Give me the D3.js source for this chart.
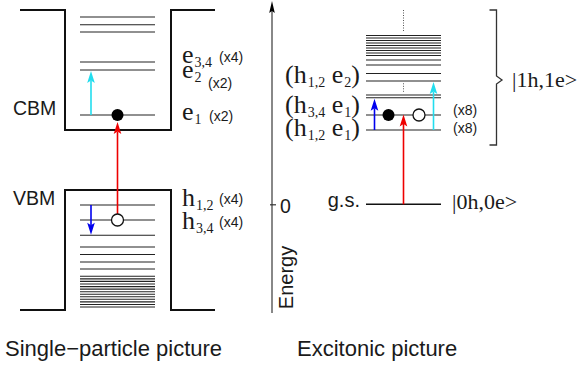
<!DOCTYPE html>
<html>
<head>
<meta charset="utf-8">
<script src="https://cdn.jsdelivr.net/npm/d3@7"></script>
<style>
  html, body { margin: 0; padding: 0; background: #fff; }
  svg { display: block; }
</style>
</head>
<body>
<svg id="chart" width="580" height="368"></svg>
<script>
// ---------- DATA (energies in arbitrary units, g.s. = 0) ----------
const panels = ["single", "excitonic"];
const panelTitles = ["Single\u2212particle picture", "Excitonic picture"];

// single-particle confinement potential
const cbBarrier = 194.3, cbBottom = 74.3;
const vbTop = 14.3, vbBarrier = -105.7;

// conduction-band (electron) levels
const cbLevels = [89.3, 134.3, 142.3, 172.3, 179.6, 187.3];
// valence-band (hole) levels
const vbLevels = [-0.7, -15.7, -31.0, -42.7, -50.2, -57.7, -64.7, -72.0, -74.6, -77.1,
                  -79.7, -82.3, -84.8, -87.4, -89.9, -92.5, -95.0, -97.6, -100.2, -102.7];
// excitonic levels |1h,1e>
const excLevels = [74.3, 89.3, 106.6, 109.3, 123.3, 130.8, 139.3, 144.3, 148.8, 151.3,
                   153.8, 156.3, 158.8, 161.3, 163.8, 166.3, 168.8];
const groundState = 0;

// level labels
const eLabels = [
  { main: "e", sub: "3,4", mult: "(x4)", E: 142.3 },
  { main: "e", sub: "2",   mult: "(x2)", E: 134.3 },
  { main: "e", sub: "1",   mult: "(x2)", E: 89.3 }
];
const hLabels = [
  { main: "h", sub: "1,2", mult: "(x4)", E: -0.7 },
  { main: "h", sub: "3,4", mult: "(x4)", E: -15.7 }
];
const excLabels = [
  { h: "1,2", e: "2", E: 123.3 },
  { h: "3,4", e: "1", E: 89.3 },
  { h: "1,2", e: "1", E: 74.3 }
];
const excMult = ["(x8)", "(x8)"];
const excMultE = [89.3, 74.3];
const axisTicks = [0];

// ---------- SCALES ----------
const svg = d3.select("#chart");
const y = d3.scaleLinear().domain([-110, 200]).range([314.3, 4.3]);
const xc = d3.scalePoint().domain(panels).range([117.5, 403.5]);
const halfLevel = 37.5;

const serif = "'Liberation Serif', 'Times New Roman', serif";
const sans = "'Liberation Sans', Arial, Helvetica, sans-serif";
const textCol = "#1a1a1a";
const levelCol = "#222";
const levelW = 1.1;

function arrow(g, x, y0, y1, color) {
  const dir = y1 < y0 ? 1 : -1; // 1 => pointing up
  const L = 12, w = 3.8, notch = 2.5;
  g.append("line").attr("x1", x).attr("x2", x).attr("y1", y0).attr("y2", y1 + dir * (L - notch))
    .attr("stroke", color).attr("stroke-width", 1.6);
  g.append("path")
    .attr("d", `M${x},${y1} L${x - w},${y1 + dir * L} L${x},${y1 + dir * (L - notch)} L${x + w},${y1 + dir * L} Z`)
    .attr("fill", color);
}

// ---------- SINGLE PARTICLE ----------
const sp = svg.append("g");
const cx = xc("single");
const wl = cx - 52.5, wr = cx + 53.5, bl = cx - 97.5, br = cx + 97.5;

sp.append("path")
  .attr("d", `M${bl},${y(cbBarrier)} H${wl} V${y(cbBottom)} H${wr} V${y(cbBarrier)} H${br}`)
  .attr("fill", "none").attr("stroke", "#111").attr("stroke-width", 2);
sp.append("path")
  .attr("d", `M${bl},${y(vbBarrier)} H${wl} V${y(vbTop)} H${wr} V${y(vbBarrier)} H${br}`)
  .attr("fill", "none").attr("stroke", "#111").attr("stroke-width", 2);

sp.selectAll("line.cb").data(cbLevels).join("line")
  .attr("x1", cx - halfLevel).attr("x2", cx + halfLevel)
  .attr("y1", d => y(d)).attr("y2", d => y(d))
  .attr("stroke", levelCol).attr("stroke-width", levelW);
sp.selectAll("line.vb").data(vbLevels).join("line")
  .attr("x1", cx - halfLevel).attr("x2", cx + halfLevel)
  .attr("y1", d => y(d)).attr("y2", d => y(d))
  .attr("stroke", levelCol).attr("stroke-width", levelW);

sp.append("text").attr("x", 13).attr("y", y(cbLevels[0]))
  .attr("font-family", sans).attr("font-size", 19.5).attr("fill", textCol).text("CBM");
sp.append("text").attr("x", 13).attr("y", y(vbTop) + 15)
  .attr("font-family", sans).attr("font-size", 19.5).attr("fill", textCol).text("VBM");

// labels
const eOff = [1, 8, 5];
const eMultX = [219, 208, 209];
const eMultOff = [0, 11, 2];
eLabels.forEach((d, i) => {
  const t = sp.append("text").attr("x", 182).attr("y", y(d.E) + eOff[i])
    .attr("font-family", serif).attr("fill", textCol);
  t.append("tspan").attr("font-size", 26).text(d.main);
  t.append("tspan").attr("font-size", 14).attr("dy", 4).attr("dx", 1).text(d.sub);
  sp.append("text").attr("x", eMultX[i]).attr("y", y(d.E) + eOff[i] + eMultOff[i] - 1)
    .attr("font-family", sans).attr("font-size", 14).attr("fill", textCol).text(d.mult);
});
const hOff = [1, 9];
hLabels.forEach((d, i) => {
  const t = sp.append("text").attr("x", 182).attr("y", y(d.E) + hOff[i])
    .attr("font-family", serif).attr("fill", textCol);
  t.append("tspan").attr("font-size", 26).text(d.main);
  t.append("tspan").attr("font-size", 14).attr("dy", 4).attr("dx", 1).text(d.sub);
  sp.append("text").attr("x", 219).attr("y", y(d.E) + hOff[i] - 2)
    .attr("font-family", sans).attr("font-size", 14).attr("fill", textCol).text(d.mult);
});

// transitions
arrow(sp, cx, y(vbLevels[1]) - 6, y(cbLevels[0]) + 7, "#ee0000");
arrow(sp, cx - 26.5, y(cbLevels[0]), y(cbLevels[1]) + 1, "#22ddee");
arrow(sp, cx - 26.5, y(vbLevels[0]), y(vbLevels[2]) - 0.5, "#0000ee");
sp.append("circle").attr("cx", cx).attr("cy", y(cbLevels[0])).attr("r", 6).attr("fill", "#000");
sp.append("circle").attr("cx", cx).attr("cy", y(vbLevels[1])).attr("r", 6)
  .attr("fill", "#fff").attr("stroke", "#111").attr("stroke-width", 1.3);

// ---------- ENERGY AXIS ----------
const ax = svg.append("g").attr("transform", "translate(272,0)");
ax.append("line").attr("x1", 0).attr("x2", 0).attr("y1", 313).attr("y2", 10)
  .attr("stroke", "#888").attr("stroke-width", 2);
ax.append("path").attr("d", "M0,1 L-2.8,13 L0,11 L2.8,13 Z").attr("fill", "#000");
const axis = d3.axisRight(y).tickValues(axisTicks).tickSize(4).tickPadding(4).tickFormat(d3.format("d"));
const axG = ax.append("g").call(axis);
axG.select(".domain").remove();
axG.selectAll(".tick line").attr("x1", -2).attr("stroke", "#333").attr("stroke-width", 1.2);
axG.selectAll(".tick text").attr("font-family", sans).attr("font-size", 19.5).attr("fill", textCol)
  .attr("dy", "0.4em");
ax.append("text").attr("transform", `translate(21,${277.5}) rotate(-90)`)
  .attr("text-anchor", "middle").attr("font-family", sans).attr("font-size", 20)
  .attr("fill", textCol).text("Energy");

// ---------- EXCITONIC ----------
const ex = svg.append("g");
const ec = xc("excitonic");
ex.selectAll("line.exc").data(excLevels).join("line")
  .attr("x1", ec - halfLevel).attr("x2", ec + halfLevel)
  .attr("y1", d => y(d)).attr("y2", d => y(d))
  .attr("stroke", levelCol).attr("stroke-width", levelW);
ex.append("line").attr("x1", ec - halfLevel).attr("x2", ec + halfLevel)
  .attr("y1", y(groundState)).attr("y2", y(groundState))
  .attr("stroke", "#111").attr("stroke-width", 1.4);

// dotted continuation marks
ex.append("line").attr("x1", ec).attr("x2", ec).attr("y1", y(194.3)).attr("y2", y(172.3))
  .attr("stroke", "#555").attr("stroke-width", 1).attr("stroke-dasharray", "1,1.5");
ex.append("line").attr("x1", ec).attr("x2", ec).attr("y1", y(121)).attr("y2", y(111))
  .attr("stroke", "#555").attr("stroke-width", 1).attr("stroke-dasharray", "1,1.5");

// level labels
const excBase = [2, -2, 6];
excLabels.forEach((d, i) => {
  const t = ex.append("text").attr("x", 360).attr("y", y(d.E) + excBase[i])
    .attr("text-anchor", "end").attr("font-family", serif).attr("fill", textCol);
  t.append("tspan").attr("font-size", 26).text("(h");
  t.append("tspan").attr("font-size", 14).attr("dy", 4).attr("dx", 1).text(d.h);
  t.append("tspan").attr("font-size", 26).attr("dy", -4).text("\u00a0e");
  t.append("tspan").attr("font-size", 14).attr("dy", 4).attr("dx", 1).text(d.e);
  t.append("tspan").attr("font-size", 26).attr("dy", -4).text(")");
});
excMult.forEach((m, i) => {
  ex.append("text").attr("x", 453).attr("y", y(excMultE[i]) + [0, 3][i])
    .attr("font-family", sans).attr("font-size", 14).attr("fill", textCol).text(m);
});

ex.append("text").attr("x", 360).attr("y", y(groundState) + 3).attr("text-anchor", "end")
  .attr("font-family", sans).attr("font-size", 20).attr("fill", textCol).text("g.s.");
ex.append("text").attr("x", 452).attr("y", y(groundState) + 5)
  .attr("font-family", serif).attr("font-size", 22).attr("fill", textCol).text("|0h,0e>");

// transitions
arrow(ex, ec, y(groundState), y(excLevels[1]) - 0.5, "#ee0000");
arrow(ex, ec - 29, y(excLevels[0]), y(excLevels[2]) + 1, "#0000ee");
arrow(ex, ec + 30, y(excLevels[0]), y(excLevels[4]) + 1, "#22ddee");
ex.append("circle").attr("cx", ec - 15).attr("cy", y(excLevels[1])).attr("r", 6).attr("fill", "#000");
ex.append("circle").attr("cx", ec + 15.5).attr("cy", y(excLevels[1])).attr("r", 6)
  .attr("fill", "#fff").attr("stroke", "#111").attr("stroke-width", 1.3);

// bracket
const bx = 496.5;
ex.append("path")
  .attr("d", `M${bx - 7},${y(194.3)} H${bx} V${y(128.3)} L${bx + 5.5},${y(124.3)} L${bx},${y(120.3)} V${y(59.3)} H${bx - 7}`)
  .attr("fill", "none").attr("stroke", "#333").attr("stroke-width", 1.3);
ex.append("text").attr("x", 512).attr("y", y(124.3) + 7)
  .attr("font-family", serif).attr("font-size", 22).attr("fill", textCol).text("|1h,1e>");

// ---------- TITLES ----------
svg.selectAll("text.title").data(panelTitles).join("text")
  .attr("class", "title")
  .attr("x", (d, i) => [5, 297][i])
  .attr("y", 356)
  .attr("font-family", sans).attr("font-size", 22).attr("fill", textCol)
  .text(d => d);
</script>
</body>
</html>
